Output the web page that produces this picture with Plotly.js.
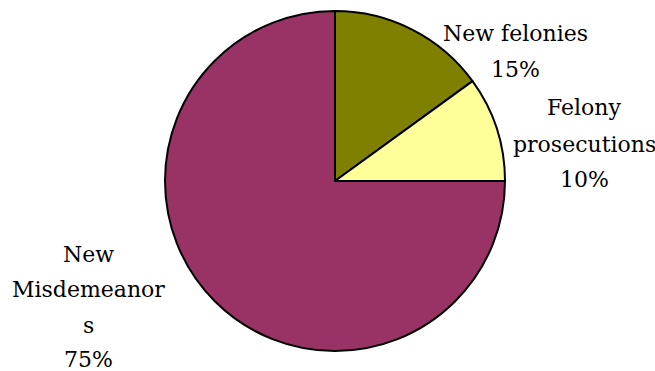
<!DOCTYPE html>
<html>
<head>
<meta charset="utf-8">
<script src="https://cdn.plot.ly/plotly-3.0.1.min.js"></script>
<style>
  html, body { margin: 0; padding: 0; background: #fff; }
  #chart { width: 655px; height: 371px; }
</style>
</head>
<body>
<div id="chart"></div>
<script>
// Share of cases by type
const categories = ["New felonies", "Felony prosecutions", "New Misdemeanors"];
const displayNames = ["New felonies", "Felony<br>prosecutions", "New<br>Misdemeanor<br>s"];
const shares = [15, 10, 75];
const sliceColors = ["#808000", "#FFFF99", "#993366"];

// Label layout: horizontal centre and the vertical centre of each text line (pixels)
const labelX = [515, 584, 88];
const labelLineY = [
  [33, 69],
  [107, 144, 179],
  [254, 289, 325, 359]
];

const W = 655, H = 371;
const FONT = { family: "DejaVu Serif", size: 22, color: "#000000" };

const trace = {
  type: "pie",
  labels: categories,
  values: shares,
  sort: false,
  direction: "clockwise",
  rotation: 0,
  textinfo: "none",
  hoverinfo: "none",
  marker: { colors: sliceColors, line: { color: "#000000", width: 2 } },
  domain: { x: [165 / W, 505 / W], y: [20 / H, 360 / H] },
  showlegend: false
};

const total = shares.reduce((a, b) => a + b, 0);
const annotations = [];
categories.forEach((c, i) => {
  const lines = displayNames[i].split("<br>");
  lines.push(Math.round(shares[i] / total * 100) + "%");
  lines.forEach((line, k) => {
    annotations.push({
      xref: "paper", yref: "paper",
      x: labelX[i] / W,
      y: 1 - labelLineY[i][k] / H,
      xanchor: "center", yanchor: "middle",
      showarrow: false,
      text: line,
      font: FONT
    });
  });
});

const layout = {
  width: W, height: H,
  margin: { l: 0, r: 0, t: 0, b: 0 },
  paper_bgcolor: "#ffffff",
  plot_bgcolor: "#ffffff",
  annotations: annotations
};

Plotly.newPlot("chart", [trace], layout, { displayModeBar: false, staticPlot: true });
</script>
</body>
</html>
